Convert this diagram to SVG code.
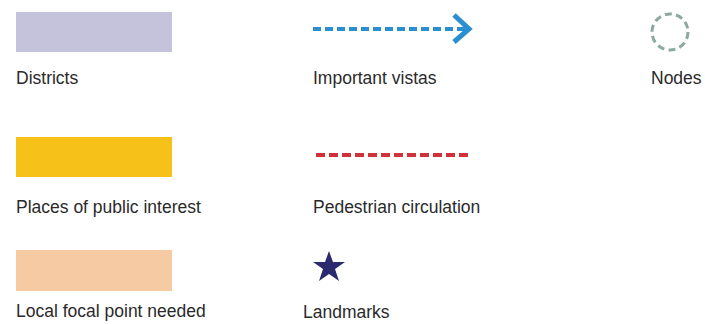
<svg xmlns="http://www.w3.org/2000/svg" width="705" height="324" viewBox="0 0 705 324">
<style>
text{font-family:"Liberation Sans","DejaVu Sans",sans-serif;font-size:17.5px;fill:#2a2a2a}
</style>
<rect width="705" height="324" fill="#fff"/>
<g id="districts"><rect x="16" y="12" width="156" height="40" fill="#c5c3dc"/><text x="16" y="84">Districts</text></g>
<g id="places"><rect x="16" y="137" width="156" height="40" fill="#f6c21a"/><text x="16" y="213">Places of public interest</text></g>
<g id="local"><rect x="16" y="250" width="156" height="41" fill="#f6cba4"/><text x="16" y="317">Local focal point needed</text></g>
<g id="vistas"><line x1="313" y1="29" x2="466" y2="29" stroke="#2a8fd0" stroke-width="4" stroke-dasharray="8,4"/><polyline points="454,15 469,29 454,42" fill="none" stroke="#2a8fd0" stroke-width="5"/><text x="313" y="84">Important vistas</text></g>
<g id="pedestrian"><line x1="316" y1="155" x2="472" y2="155" stroke="#d0323a" stroke-width="4" stroke-dasharray="9,4"/><text x="313" y="213">Pedestrian circulation</text></g>
<g id="landmarks"><polygon points="329,251 333,262 345,262 335,269 339,281 329,274 319,281 323,269 313,262 325,262" fill="#2b2a6e"/><text x="303" y="318">Landmarks</text></g>
<g id="nodes"><circle cx="670" cy="32" r="18" fill="none" stroke="#8aaa9f" stroke-width="3" stroke-dasharray="7,4.3"/><text x="651" y="84">Nodes</text></g>
</svg>
